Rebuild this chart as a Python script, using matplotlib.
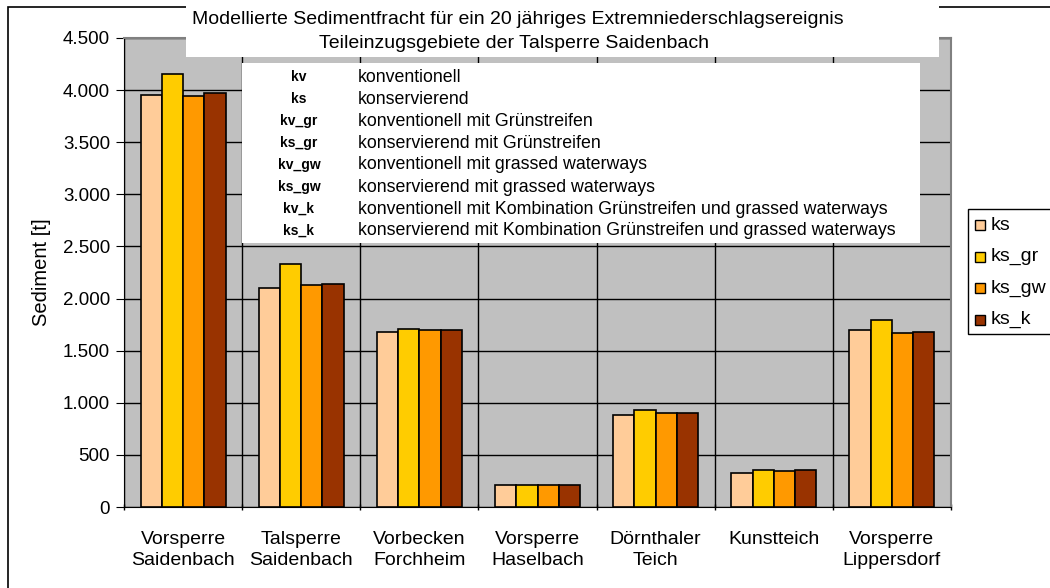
import matplotlib
matplotlib.use('Agg')
import matplotlib.pyplot as plt
import numpy as np
from matplotlib.patches import Rectangle
from matplotlib.ticker import FuncFormatter, FixedLocator

plt.rcParams['font.family'] = ['Liberation Sans', 'DejaVu Sans']

# Daten
categories = ['Vorsperre\nSaidenbach', 'Talsperre\nSaidenbach', 'Vorbecken\nForchheim',
              'Vorsperre\nHaselbach', 'Dörnthaler\nTeich', 'Kunstteich', 'Vorsperre\nLippersdorf']
series_names = ['ks', 'ks_gr', 'ks_gw', 'ks_k']
ks = [3955, 2100, 1682, 214, 886, 330, 1698]
ks_gr = [4155, 2328, 1711, 214, 928, 355, 1797]
ks_gw = [3940, 2127, 1698, 214, 902, 342, 1672]
ks_k = [3968, 2143, 1698, 214, 902, 358, 1682]
values = [ks, ks_gr, ks_gw, ks_k]
colors = ['#FFCC99', '#FFCC00', '#FF9900', '#993300']

abbrevs = ['kv', 'ks', 'kv_gr', 'ks_gr', 'kv_gw', 'ks_gw', 'kv_k', 'ks_k']
descriptions = ['konventionell', 'konservierend', 'konventionell mit Grünstreifen',
                'konservierend mit Grünstreifen', 'konventionell mit grassed waterways',
                'konservierend mit grassed waterways',
                'konventionell mit Kombination Grünstreifen und grassed waterways',
                'konservierend mit Kombination Grünstreifen und grassed waterways']

title_lines = ['Modellierte Sedimentfracht für ein 20 jähriges Extremniederschlagsereignis',
               'Teileinzugsgebiete der Talsperre Saidenbach']

W, H = 1050, 588
fig = plt.figure(figsize=(10.5, 5.88), dpi=100)


def fx(px):
    return px / W


def fy(py):
    return 1 - py / H


# Rahmen des Diagrammbereichs (rechts/unten ausserhalb des Bildes)
fig.patches.append(Rectangle((fx(8), fy(600)), fx(1100 - 8), 600 / H - 7 / H, transform=fig.transFigure,
                             facecolor='none', edgecolor='black', lw=1.2, zorder=0))

ax = fig.add_axes([fx(124), fy(507), fx(951 - 124), (507 - 38) / H])
ax.set_facecolor('#C0C0C0')

x = np.arange(len(categories))
w = 0.18
for i in range(len(series_names)):
    ax.bar(x + (i - 1.5) * w, values[i], width=w, color=colors[i], edgecolor='black',
           linewidth=1.2, zorder=3, label=series_names[i])

ax.set_xlim(-0.5, len(categories) - 0.5)
ax.set_ylim(0, 4500)
ax.set_yticks(np.arange(0, 4501, 500))
ax.yaxis.set_major_formatter(FuncFormatter(lambda v, p: f'{int(v):,}'.replace(',', '.')))
ax.grid(axis='y', color='black', lw=1, zorder=1)
ax.set_xticks(x)
ax.set_xticklabels(categories, fontsize=14, linespacing=1.35)
ax.xaxis.set_minor_locator(FixedLocator(np.arange(-0.5, len(categories), 1)))
ax.tick_params(axis='x', which='major', length=0, pad=17)
ax.tick_params(axis='x', which='minor', length=5, direction='inout', width=1)
ax.grid(axis='x', which='minor', color='black', lw=1, zorder=1)
ax.tick_params(axis='y', length=6, direction='out', labelsize=13.5, pad=4)
ax.set_axisbelow(True)
for side in ['top', 'right']:
    ax.spines[side].set_color('#808080')
    ax.spines[side].set_linewidth(1.5)
ax.spines['left'].set_color('black')
ax.spines['bottom'].set_color('black')
ax.set_ylabel('Sediment [t]', fontsize=14.5)
ax.yaxis.set_label_coords(fx(51 - 124) / fx(951 - 124), 0.5)

# Titel mit weissem Kasten
fig.patches.append(Rectangle((fx(186), fy(57)), fx(939 - 186), 57 / H, transform=fig.transFigure,
                             facecolor='white', edgecolor='none', zorder=5))
fig.text(fx(518), fy(19), title_lines[0], ha='center', va='center', fontsize=14, zorder=6)
fig.text(fx(514), fy(43), title_lines[1], ha='center', va='center', fontsize=14, zorder=6)

# Erklaerungstabelle
fig.patches.append(Rectangle((fx(242), fy(243)), fx(920 - 242), (243 - 63) / H, transform=fig.transFigure,
                             facecolor='white', edgecolor='none', zorder=5))
for k in range(len(abbrevs)):
    yy = 77 + k * 22
    fig.text(fx(299), fy(yy), abbrevs[k], ha='center', va='center', fontsize=10,
             fontweight='bold', zorder=6)
    fig.text(fx(358), fy(yy), descriptions[k], ha='left', va='center', fontsize=12.8, zorder=6)

# Legende rechts
fig.patches.append(Rectangle((fx(968), fy(334)), fx(1100 - 968), (334 - 209) / H, transform=fig.transFigure,
                             facecolor='white', edgecolor='black', lw=1, zorder=5))
for k in range(len(series_names)):
    yy = 225 + k * 31.5
    fig.patches.append(Rectangle((fx(975), fy(yy + 5)), fx(10), 10 / H, transform=fig.transFigure,
                                 facecolor=colors[k], edgecolor='black', lw=1, zorder=6))
    fig.text(fx(991), fy(yy), series_names[k], ha='left', va='center', fontsize=14, zorder=6)

fig.savefig('out.png', dpi=100)
